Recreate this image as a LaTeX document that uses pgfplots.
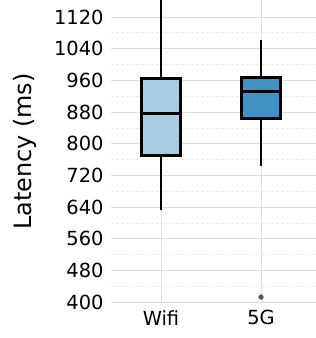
\documentclass[border=0pt]{standalone}
\usepackage{pgfplots}
\pgfplotsset{compat=1.18}
\usepackage{fontspec}
\setmainfont{DejaVu Sans}
\definecolor{wifi}{RGB}{166,205,226}
\definecolor{fiveg}{RGB}{66,145,197}
\definecolor{gridmaj}{RGB}{222,222,222}
\definecolor{gridmin}{RGB}{234,234,234}
\begin{document}
\begin{tikzpicture}
\begin{axis}[
  at={(111bp,35bp)}, anchor=south west,
  scale only axis,
  width=205bp, height=303bp,
  xmin=-0.5, xmax=1.55,
  ymin=398, ymax=1163,
  xtick={0,1}, xticklabels={Wifi,5G},
  ytick={400,480,...,1120},
  minor y tick num=1,
  ymajorgrids, yminorgrids, xmajorgrids,
  major grid style={gridmaj, line width=1bp},
  minor grid style={gridmin, line width=0.8bp, dash pattern=on 3bp off 2bp},
  axis line style={draw=none},
  tick style={draw=none},
  /pgf/number format/assume math mode=true,
  /pgf/number format/1000 sep={},
  ticklabel style={font=\fontsize{19.5}{20}\selectfont},
  yticklabel style={xshift=-4bp},
  xticklabel style={yshift=-4bp},
  ylabel={Latency (ms)},
  ylabel style={font=\fontsize{24}{26}\selectfont, at={(axis description cs:-0.42,0.5)}, anchor=center},
]
% Wifi: whiskers, box, median
\addplot[black, line width=2.6bp] coordinates {(0,632) (0,770)};
\addplot[black, line width=2.6bp] coordinates {(0,965) (0,1260)};
\addplot[fill=wifi, draw=black, line width=2.6bp] coordinates {(-0.195,770) (0.195,770) (0.195,965) (-0.195,965)} -- cycle;
\addplot[black, line width=2.6bp] coordinates {(-0.195,877) (0.195,877)};
% 5G: whiskers, box, median
\addplot[black, line width=2.6bp] coordinates {(1,745) (1,864)};
\addplot[black, line width=2.6bp] coordinates {(1,968) (1,1063)};
\addplot[fill=fiveg, draw=black, line width=2.6bp] coordinates {(0.805,864) (1.195,864) (1.195,968) (0.805,968)} -- cycle;
\addplot[black, line width=2.6bp] coordinates {(0.805,932) (1.195,932)};
% outlier
\addplot[only marks, mark=*, mark size=2.4bp, mark options={fill=black!65, draw=black!65, line width=0.4bp}] coordinates {(1,413)};
\end{axis}
\pgfresetboundingbox
\path (0,0) rectangle (316bp,338bp);
\end{tikzpicture}
\end{document}
